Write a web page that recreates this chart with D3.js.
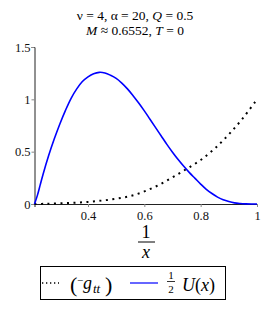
<!DOCTYPE html>
<html>
<head>
<meta charset="utf-8">
<script src="https://cdn.jsdelivr.net/npm/d3@7"></script>
<style>
  body { margin: 0; background: #fff; }
  svg text { font-family: "Liberation Serif", "Times New Roman", "DejaVu Serif", serif; }
</style>
</head>
<body>
<div id="plot"></div>
<script>
// values
var xU = [0.21, 0.22, 0.23, 0.24, 0.26, 0.28, 0.30, 0.32, 0.34, 0.36, 0.38, 0.40, 0.42, 0.44, 0.46, 0.48, 0.50, 0.52, 0.54, 0.56, 0.58, 0.60, 0.62, 0.64, 0.66, 0.68, 0.70, 0.72, 0.74, 0.76, 0.78, 0.80, 0.82, 0.84, 0.86, 0.88, 0.90, 0.92, 0.94, 0.96, 0.98, 1.0];
var halfU = [0, 0.08, 0.18, 0.28, 0.46, 0.62, 0.765, 0.895, 1.01, 1.10, 1.17, 1.215, 1.245, 1.258, 1.252, 1.23, 1.20, 1.155, 1.10, 1.035, 0.965, 0.89, 0.81, 0.73, 0.65, 0.57, 0.495, 0.425, 0.36, 0.30, 0.245, 0.19, 0.14, 0.10, 0.066, 0.04, 0.023, 0.011, 0.005, 0.0015, 0, 0];
var xG = [0.21, 0.25, 0.30, 0.35, 0.40, 0.45, 0.50, 0.55, 0.60, 0.65, 0.70, 0.75, 0.80, 0.85, 0.90, 0.95, 1.0];
var minusGtt = [0, 0.002, 0.006, 0.012, 0.02, 0.033, 0.05, 0.076, 0.12, 0.18, 0.255, 0.335, 0.42, 0.53, 0.665, 0.82, 1.0];
var xTicks = [0.4, 0.6, 0.8, 1];
var yTicks = [0, 0.5, 1, 1.5];

var W = 267, H = 310;
var svg = d3.select("#plot").append("svg")
  .attr("width", W).attr("height", H);

var x = d3.scaleLinear().domain([0.21, 1]).range([34.5, 257]);
var y = d3.scaleLinear().domain([0, 1.5]).range([204, 47]);

// title
svg.append("text")
  .attr("x", 135).attr("y", 20)
  .attr("text-anchor", "middle")
  .style("font-size", "13.5px")
  .html('ν = 4, α = 20, <tspan font-style="italic">Q</tspan> = 0.5');
svg.append("text")
  .attr("x", 135).attr("y", 35)
  .attr("text-anchor", "middle")
  .style("font-size", "13.5px")
  .html('<tspan font-style="italic">M</tspan> ≈ 0.6552, <tspan font-style="italic">T</tspan> = 0');

// axes
var xAxis = svg.append("g")
  .attr("transform", "translate(0," + y(0) + ")")
  .call(d3.axisBottom(x).tickValues(xTicks).tickSize(3).tickFormat(d3.format("")));
var yAxis = svg.append("g")
  .attr("transform", "translate(" + x(0.21) + ",0)")
  .call(d3.axisLeft(y).tickValues(yTicks).tickSize(3).tickFormat(d3.format("")));
[xAxis, yAxis].forEach(function(g) {
  g.attr("font-family", null);
  g.select(".domain").attr("stroke", "#222");
  g.selectAll(".tick line").attr("stroke", "#888");
  g.selectAll(".tick text")
    .style("font-size", "12.5px")
    .attr("fill", "#111");
});
yAxis.selectAll(".tick text").attr("x", -4);
xAxis.selectAll(".tick text").attr("y", 7);

// x label: 1/x
svg.append("text").attr("x", 146).attr("y", 238)
  .attr("text-anchor", "middle").style("font-size", "18px").text("1");
svg.append("line").attr("x1", 138).attr("x2", 155).attr("y1", 242).attr("y2", 242)
  .attr("stroke", "#000").attr("stroke-width", 1);
svg.append("text").attr("x", 146).attr("y", 258)
  .attr("text-anchor", "middle").style("font-size", "18px").style("font-style", "italic").text("x");

// curves
var lineU = d3.line()
  .x(function(d, i) { return x(xU[i]); })
  .y(function(d) { return y(d); })
  .curve(d3.curveCatmullRom);
var lineG = d3.line()
  .x(function(d, i) { return x(xG[i]); })
  .y(function(d) { return y(d); })
  .curve(d3.curveCatmullRom);

svg.append("path")
  .attr("d", lineG(minusGtt))
  .attr("fill", "none")
  .attr("stroke", "#000")
  .attr("stroke-width", 2)
  .attr("stroke-dasharray", "2,4.5");
svg.append("path")
  .attr("d", lineU(halfU))
  .attr("fill", "none")
  .attr("stroke", "#0000ff")
  .attr("stroke-width", 1.6);

// legend
var lg = svg.append("g");
lg.append("rect").attr("x", 40.5).attr("y", 266.5).attr("width", 185).attr("height", 33)
  .attr("fill", "#fff").attr("stroke", "#000");
lg.append("line").attr("x1", 42).attr("x2", 59).attr("y1", 283).attr("y2", 283)
  .attr("stroke", "#000").attr("stroke-width", 1.3).attr("stroke-dasharray", "1.3,2.7");
lg.append("text").attr("x", 70).attr("y", 292).style("font-size", "22px").text("(");
lg.append("text").attr("x", 77).attr("y", 284).style("font-size", "11px").text("−");
lg.append("text").attr("x", 83).attr("y", 289).style("font-size", "18px").style("font-style", "italic").text("g");
lg.append("text").attr("x", 93).attr("y", 293).style("font-size", "13px").style("font-style", "italic").text("tt");
lg.append("text").attr("x", 105).attr("y", 292).style("font-size", "22px").text(")");
lg.append("line").attr("x1", 130).attr("x2", 158).attr("y1", 283).attr("y2", 283)
  .attr("stroke", "#0000ff").attr("stroke-width", 1.2);
lg.append("text").attr("x", 171).attr("y", 279).attr("text-anchor", "middle")
  .style("font-size", "11px").text("1");
lg.append("line").attr("x1", 167).attr("x2", 175).attr("y1", 281.5).attr("y2", 281.5)
  .attr("stroke", "#000").attr("stroke-width", 0.8);
lg.append("text").attr("x", 171).attr("y", 293).attr("text-anchor", "middle")
  .style("font-size", "11px").text("2");
lg.append("text").attr("x", 182).attr("y", 291).style("font-size", "18px")
  .html('<tspan font-style="italic">U</tspan>(<tspan font-style="italic">x</tspan>)');
</script>
</body>
</html>
